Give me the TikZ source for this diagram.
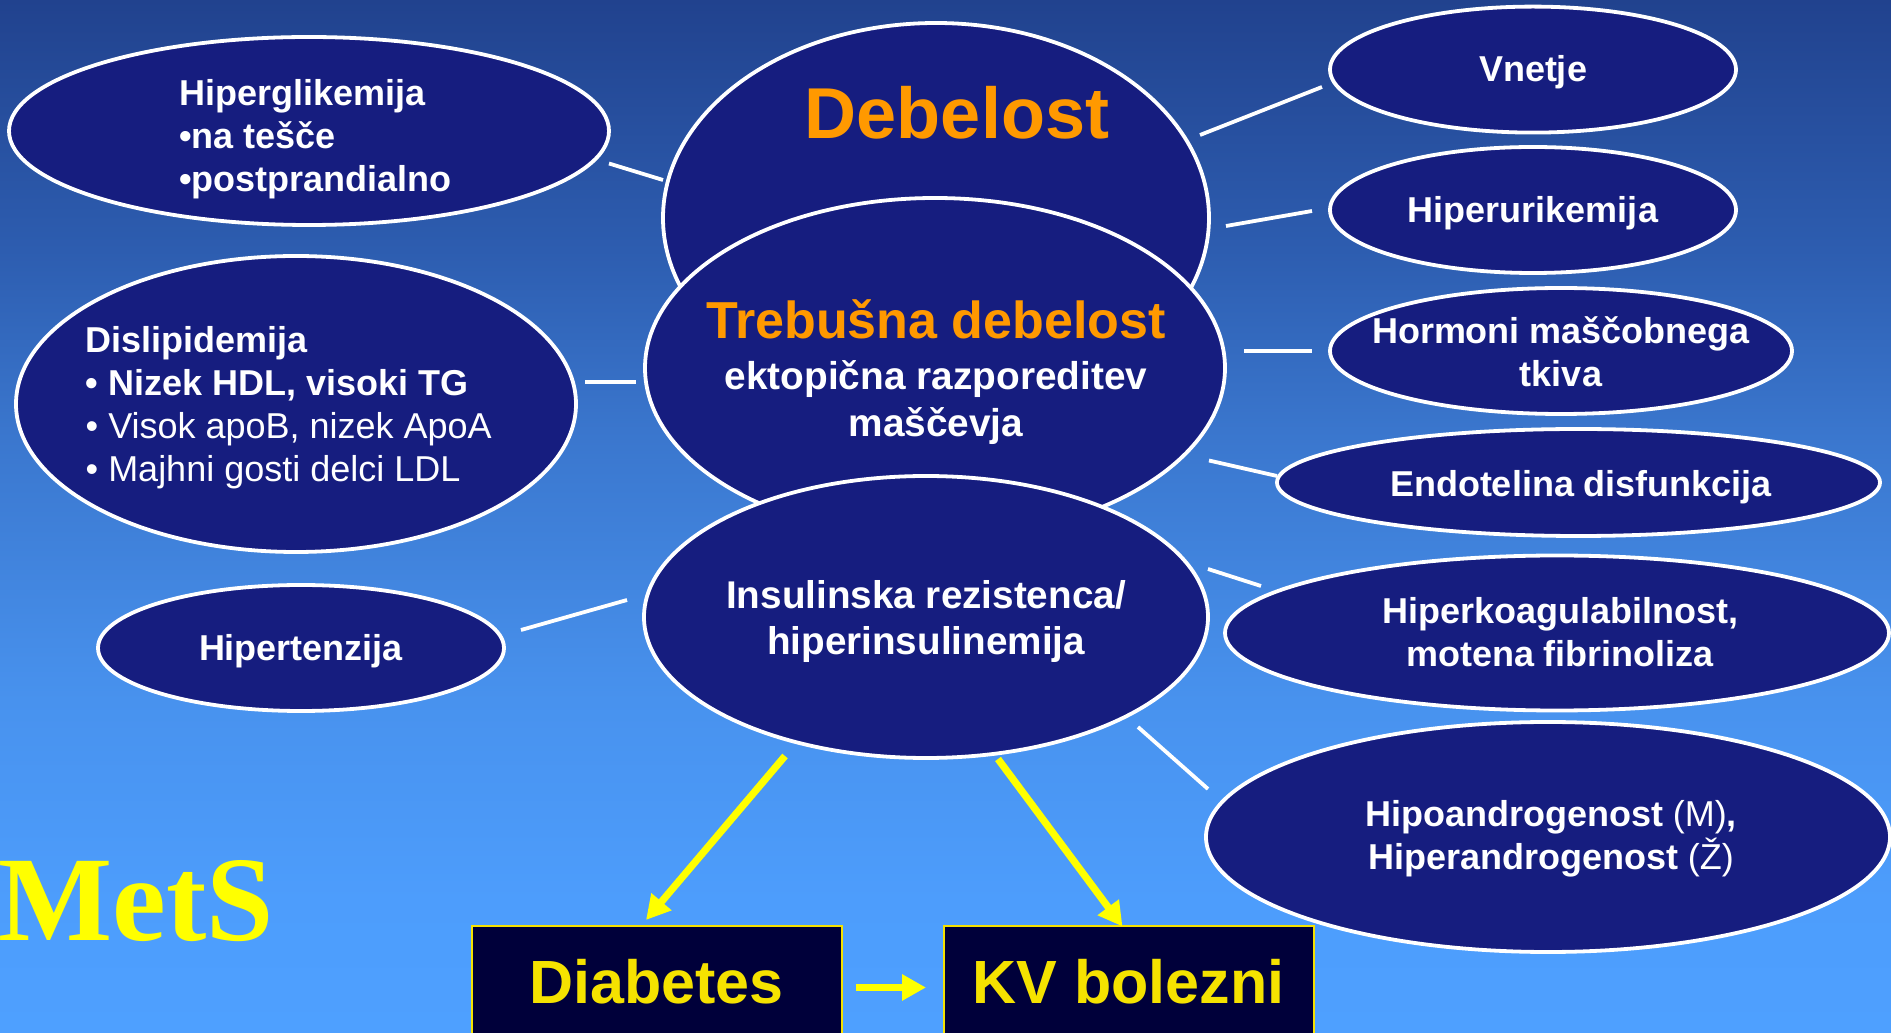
\documentclass[tikz,border=0pt]{standalone}
\usepackage{fontspec}
\setmainfont{Liberation Sans}
\newfontfamily\serifb{Liberation Serif}
\usetikzlibrary{shapes.geometric,arrows.meta}

\definecolor{navy}{RGB}{22,29,127}
\definecolor{boxnavy}{RGB}{0,0,58}
\definecolor{boxyel}{RGB}{245,226,0}
\definecolor{yel}{RGB}{255,255,0}
\definecolor{orng}{RGB}{255,153,0}
\definecolor{bga}{RGB}{33,66,142}
\definecolor{bgb}{RGB}{45,93,176}
\definecolor{bgc}{RGB}{58,118,205}
\definecolor{bgd}{RGB}{72,146,238}
\definecolor{bge}{RGB}{77,157,252}
\definecolor{bgf}{RGB}{78,160,255}
\pgfdeclareverticalshading{bgshade}{100bp}{color(0bp)=(bgf); color(25bp)=(bgf); color(31.4bp)=(bge); color(41.1bp)=(bgd); color(54.2bp)=(bgc); color(62.9bp)=(bgb); color(75bp)=(bga); color(100bp)=(bga)}

\begin{document}
\begin{tikzpicture}[x=0.1mm,y=-0.1mm,
  ell/.style={ellipse, draw=white, line width=0.38mm, fill=navy, inner sep=0pt},
  conn/.style={draw=white, line width=0.38mm},
  yarr/.style={draw=yel, line width=0.72mm, -{Triangle[length=2.4mm,width=2.5mm]}},
  txt/.style={text=white, inner sep=0pt, font=\bfseries\fontsize{10.24}{12.3}\selectfont},
  kvbox/.style={draw=boxyel, line width=0.2mm, fill=boxnavy, minimum width=37mm, minimum height=25mm, anchor=north, inner sep=0pt},
  kvtxt/.style={anchor=base, inner sep=0pt, text=boxyel, font=\bfseries\fontsize{17.36}{20}\selectfont}]
\useasboundingbox (0,0) rectangle (1891,1033);
\clip (0,0) rectangle (1891,1033);
\fill[shading=bgshade] (0,0) rectangle (1891,1033);

% ellipses
\node[ell, minimum width=60mm, minimum height=18.8mm] (hg) at (309,131) {};
\node[ell, minimum width=56mm, minimum height=29.6mm] (dl) at (296,404) {};
\node[ell, minimum width=40.6mm, minimum height=12.6mm] (ht) at (301,648) {};
\node[ell, minimum width=54.6mm, minimum height=39mm] (deb) at (936,218) {};
\node[ell, minimum width=58mm, minimum height=34mm] (treb) at (935,368) {};
\node[ell, minimum width=56.4mm, minimum height=28.2mm] (ins) at (926,617) {};
\node[ell, minimum width=40.6mm, minimum height=12.6mm] (vn) at (1533,69.6) {};
\node[ell, minimum width=40.6mm, minimum height=12.6mm] (hu) at (1533,210) {};
\node[ell, minimum width=46.2mm, minimum height=12.6mm] (hm) at (1561,351) {};
\node[ell, minimum width=60.3mm, minimum height=10.7mm] (en) at (1578.5,482.5) {};
\node[ell, minimum width=66.4mm, minimum height=15.5mm] (hk) at (1557,633) {};
\node[ell, minimum width=68.4mm, minimum height=23mm] (ha) at (1548,837) {};

% texts
\node[txt, anchor=west, align=left] (hgt) at (178.6,139) {Hiperglikemija\\•na tešče\\•postprandialno};
\node[txt, anchor=west, align=left] (dlt) at (85,407.6) {Dislipidemija\\• Nizek HDL, visoki TG\\{\mdseries • Visok apoB, nizek ApoA}\\{\mdseries • Majhni gosti delci LDL}};
\node[txt, anchor=base] (htt) at (301,661) {Hipertenzija};
\node[anchor=base, inner sep=0pt, text=orng, font=\bfseries\fontsize{20.5}{24}\selectfont] (debt) at (957,139) {Debelost};
\node[anchor=base, inner sep=0pt, text=orng, font=\bfseries\fontsize{14.8}{17}\selectfont] (trebt) at (936,338.4) {Trebušna debelost};
\node[txt, font=\bfseries\fontsize{11.04}{13.37}\selectfont, align=center] (trebs) at (936,402.6) {ektopična razporeditev\\maščevja};
\node[txt, font=\bfseries\fontsize{11}{13.1}\selectfont, align=center] (inst) at (926,621.5) {Insulinska rezistenca/\\hiperinsulinemija};
\node[txt, anchor=base] (vnt) at (1533,82) {Vnetje};
\node[txt, anchor=base] (hut) at (1533,223) {Hiperurikemija};
\node[txt, align=center] (hmt) at (1561,352) {Hormoni maščobnega\\tkiva};
\node[txt, anchor=base] (ent) at (1581,496.5) {Endotelina disfunkcija};
\node[txt, align=center] (hkt) at (1560,631.8) {Hiperkoagulabilnost,\\motena fibrinoliza};
\node[txt, align=center] (hat) at (1551,839) {Hipoandrogenost {\mdseries (M)},\\Hiperandrogenost {\mdseries (Ž)}};

% boxes
\node[kvbox] (dia) at (656.7,924.7) {};
\node[kvbox] (kv) at (1128.7,924.7) {};
\node[kvtxt] (diat) at (656.7,1003) {Diabetes};
\node[kvtxt] (kvt) at (1128.7,1003) {KV bolezni};

\node[anchor=base west, inner sep=0pt, text=yel, font=\serifb\bfseries\fontsize{34.4}{38}\selectfont] (mets) at (-2,941) {MetS};

% connector end points
\coordinate (c1a) at (609,163.5); \coordinate (c1b) at (663,180);
\coordinate (c2a) at (585,382);   \coordinate (c2b) at (636,382);
\coordinate (c3a) at (521,630);   \coordinate (c3b) at (627,600);
\coordinate (c4a) at (1200,135);  \coordinate (c4b) at (1322,87);
\coordinate (c5a) at (1226,226);  \coordinate (c5b) at (1312,211);
\coordinate (c6a) at (1244,351);  \coordinate (c6b) at (1312,351);
\coordinate (c7a) at (1209,460.5);\coordinate (c7b) at (1277,476);
\coordinate (c8a) at (1208,569);  \coordinate (c8b) at (1261,586);
\coordinate (c9a) at (1138,727);  \coordinate (c9b) at (1208,789);
\draw[conn] (c1a) -- (c1b);
\draw[conn] (c2a) -- (c2b);
\draw[conn] (c3a) -- (c3b);
\draw[conn] (c4a) -- (c4b);
\draw[conn] (c5a) -- (c5b);
\draw[conn] (c6a) -- (c6b);
\draw[conn] (c7a) -- (c7b);
\draw[conn] (c8a) -- (c8b);
\draw[conn] (c9a) -- (c9b);

% yellow arrows
\coordinate (a1a) at (785,756);  \coordinate (a1b) at (646,920);
\coordinate (a2a) at (998,759);  \coordinate (a2b) at (1122.5,926.5);
\coordinate (a3a) at (856,987.5); \coordinate (a3b) at (926,987.5);
\draw[yarr] (a1a) -- (a1b);
\draw[yarr] (a2a) -- (a2b);
\draw[yarr] (a3a) -- (a3b);
\end{tikzpicture}
\end{document}
